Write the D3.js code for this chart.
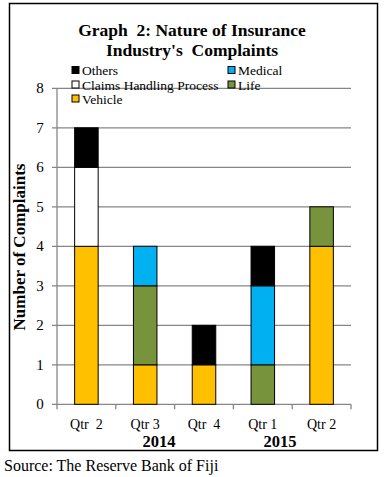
<!DOCTYPE html>
<html>
<head>
<meta charset="utf-8">
<script src="https://cdn.jsdelivr.net/npm/d3@7"></script>
<style>
  body { margin: 0; background: #fff; }
  text { font-family: 'Liberation Serif', 'Times New Roman', serif; white-space: pre; }
</style>
</head>
<body>
<div id="chart"></div>
<script>
// datos
var quarters = ['Qtr  2', 'Qtr 3', 'Qtr  4', 'Qtr 1', 'Qtr 2']
var years = ['2014', '2015']
var vehicle = [4, 1, 1, 0, 4]
var life = [0, 2, 0, 1, 1]
var medical = [0, 1, 0, 2, 0]
var claims = [2, 0, 0, 0, 0]
var others = [1, 0, 1, 1, 0]
var yTicks = [0, 1, 2, 3, 4, 5, 6, 7, 8]

var series = [
  { name: 'Vehicle', values: vehicle, color: '#FFC000' },
  { name: 'Life', values: life, color: '#77933C' },
  { name: 'Medical', values: medical, color: '#00B0F0' },
  { name: 'Claims Handling Process', values: claims, color: '#FFFFFF' },
  { name: 'Others', values: others, color: '#000000' },
]

var width = 384
var height = 477
var plotLeft = 57, plotRight = 351, plotTop = 88.3, plotBottom = 404.3

var svg = d3.select('#chart').append('svg').attr('width', width).attr('height', height)

// marco exterior
svg.append('rect')
  .attr('x', 9.5).attr('y', 3.5)
  .attr('width', 368).attr('height', 447)
  .attr('fill', 'none').attr('stroke', '#000').attr('stroke-width', 1.5)

var x = d3.scaleBand().domain(d3.range(quarters.length)).range([plotLeft, plotRight]).paddingInner(0.6).paddingOuter(0.3)
var y = d3.scaleLinear().domain([0, 8]).range([plotBottom, plotTop])

// lineas de la cuadricula
svg.append('g').selectAll('line').data(yTicks).enter().append('line')
  .attr('x1', plotLeft - 5).attr('x2', plotRight)
  .attr('y1', d => y(d)).attr('y2', d => y(d))
  .attr('stroke', '#868686').attr('stroke-width', 1.3)

// eje Y
svg.append('line').attr('x1', plotLeft).attr('x2', plotLeft).attr('y1', plotTop).attr('y2', plotBottom)
  .attr('stroke', '#868686').attr('stroke-width', 1.3)

svg.append('g').selectAll('text').data(yTicks).enter().append('text')
  .attr('x', 40).attr('y', d => y(d) + 5)
  .attr('text-anchor', 'middle')
  .style('font-size', '15px')
  .text(d => d)

// marcas del eje X
var step = (plotRight - plotLeft) / quarters.length
svg.append('g').selectAll('line').data(d3.range(quarters.length + 1)).enter().append('line')
  .attr('x1', i => plotLeft + i * step).attr('x2', i => plotLeft + i * step)
  .attr('y1', plotBottom).attr('y2', plotBottom + 5)
  .attr('stroke', '#868686').attr('stroke-width', 1.3)

// barras apiladas
var stack = d3.stack().keys(d3.range(series.length)).value((d, k) => series[k].values[d])
var stacked = stack(d3.range(quarters.length))

stacked.forEach((layer, k) => {
  svg.append('g').selectAll('rect')
    .data(layer.filter(d => d[1] > d[0]))
    .enter().append('rect')
    .attr('x', d => x(d.data))
    .attr('y', d => y(d[1]))
    .attr('width', x.bandwidth())
    .attr('height', d => y(d[0]) - y(d[1]))
    .attr('fill', series[k].color)
    .attr('stroke', '#000').attr('stroke-width', 1)
})

// etiquetas X
svg.append('g').selectAll('text').data(quarters).enter().append('text')
  .attr('x', (d, i) => x(i) + x.bandwidth() / 2)
  .attr('y', 429)
  .attr('text-anchor', 'middle')
  .style('font-size', '14px')
  .text(d => d)

svg.append('g').selectAll('text').data(years).enter().append('text')
  .attr('x', (d, i) => [159, 280][i])
  .attr('y', 447)
  .attr('text-anchor', 'middle')
  .style('font-size', '16.5px').style('font-weight', 'bold')
  .text(d => d)

// titulo
svg.append('text').attr('x', 192).attr('y', 36).attr('text-anchor', 'middle')
  .style('font-size', '17.5px').style('font-weight', 'bold')
  .text('Graph  2: Nature of Insurance')
svg.append('text').attr('x', 192).attr('y', 56).attr('text-anchor', 'middle')
  .style('font-size', '17.5px').style('font-weight', 'bold')
  .text("Industry's  Complaints")

// titulo eje Y
svg.append('text')
  .attr('transform', 'translate(25,247) rotate(-90)')
  .attr('text-anchor', 'middle')
  .style('font-size', '17px').style('font-weight', 'bold')
  .text('Number of Complaints')

// leyenda
var legendItems = [
  { s: series[4], x: 72, y: 70.5 },
  { s: series[2], x: 228, y: 70.5 },
  { s: series[3], x: 72, y: 85 },
  { s: series[1], x: 228, y: 85 },
  { s: series[0], x: 72, y: 99 },
]
var lg = svg.append('g').selectAll('g').data(legendItems).enter().append('g')
  .attr('transform', d => 'translate(' + d.x + ',' + d.y + ')')
lg.append('rect').attr('x', 0).attr('y', -4).attr('width', 7).attr('height', 7)
  .attr('fill', d => d.s.color).attr('stroke', '#000').attr('stroke-width', 1)
lg.append('text').attr('x', 10).attr('y', 4.5)
  .style('font-size', '13.5px')
  .text(d => d.s.name)

// fuente
svg.append('text').attr('x', 4).attr('y', 471)
  .style('font-size', '16px')
  .text('Source: The Reserve Bank of Fiji')
</script>
</body>
</html>
